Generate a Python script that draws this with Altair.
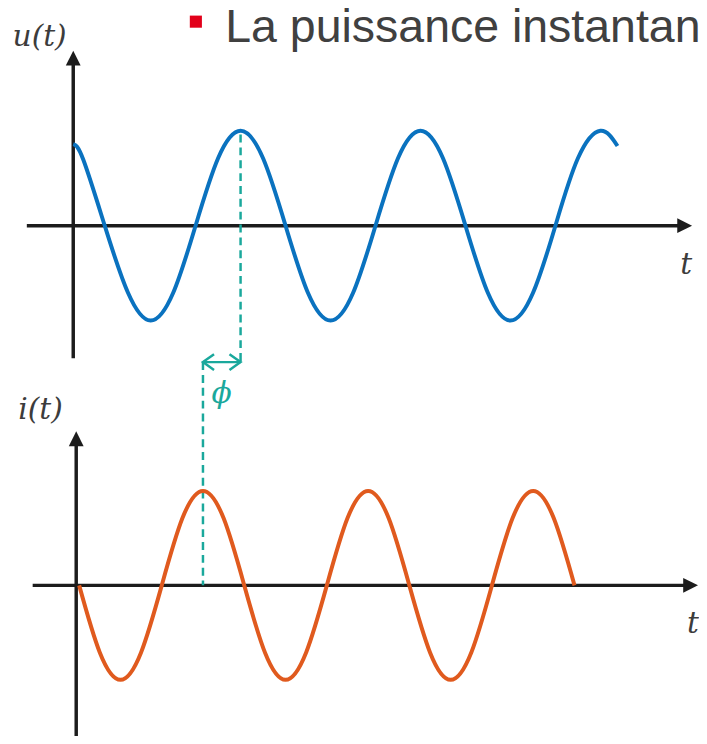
import altair as alt
import pandas as pd

# ---- data ----
# u(t): time (ms) and normalised value at key points
u_t = [0.0, 1.1, 3.5, 6.1, 8.6, 11.1, 13.6, 16.1, 18.6, 21.1, 23.6, 26.1, 28.6,
       31.1, 33.6, 36.1, 38.6, 41.1, 43.6, 46.1, 48.6, 51.1, 53.6, 56.1, 58.6, 60.5]
u_v = [0.86, 0.70, 0.0, -0.71, -1.0, -0.71, 0.0, 0.71, 1.0, 0.71, 0.0, -0.71, -1.0,
       -0.71, 0.0, 0.71, 1.0, 0.71, 0.0, -0.71, -1.0, -0.71, 0.0, 0.71, 1.0, 0.84]

# i(t): time (ms) and normalised value at key points
i_t = [0.66, 2.95, 5.25, 7.54, 9.84, 12.13, 14.42, 16.72, 19.01, 21.31, 23.60, 25.89,
       28.19, 30.48, 32.78, 35.07, 37.36, 39.66, 41.95, 44.25, 46.54, 48.83, 51.13,
       53.42, 55.72]
i_v = [0.0, -0.71, -1.0, -0.71, 0.0, 0.71, 1.0, 0.71, 0.0, -0.71, -1.0, -0.71,
       0.0, 0.71, 1.0, 0.71, 0.0, -0.71, -1.0, -0.71, 0.0, 0.71, 1.0, 0.71, 0.0]

u_peak_t = 18.6    # peak of u used for the phase marker
i_peak_t = 14.42   # peak of i used for the phase marker

title_text = "La puissance instantanée"
labels = ["u(t)", "t", "i(t)", "t"]

# ---- layout (data units) ----
X_DOMAIN = [-7.2527, 69.560]
Y_DOMAIN = [-5.3333, 2.25]
I_BASE = -3.79
I_AMP = 0.995
PHI_Y = -1.4375

BLUE = "#0A72BF"
ORANGE = "#E05A1E"
TEAL = "#1AA89C"
AXIS = "#1c1c1c"
TXT = "#3c3c3c"

xs = alt.Scale(domain=X_DOMAIN, nice=False, zero=False)
ys = alt.Scale(domain=Y_DOMAIN, nice=False, zero=False)


def X(f="t"):
    return alt.X(f"{f}:Q", scale=xs, axis=None)


def Y(f="y"):
    return alt.Y(f"{f}:Q", scale=ys, axis=None)


u_df = pd.DataFrame({"t": u_t, "y": u_v})
i_df = pd.DataFrame({"t": i_t, "y": [I_BASE + I_AMP * v for v in i_v]})

axes_df = pd.DataFrame({
    "t": [-5.16, 0.0, -4.51, 0.33],
    "t2": [67.7, 0.0, 68.3, 0.33],
    "y": [0.0, -1.396, I_BASE, -5.6],
    "y2": [0.0, 1.72, I_BASE, -2.29],
})
heads_x = pd.DataFrame({"t": [68.79, 69.45], "y": [0.0, I_BASE]})
heads_y = pd.DataFrame({"t": [0.0, 0.33], "y": [1.844, -2.167]})

dash_df = pd.DataFrame({
    "t": [u_peak_t, i_peak_t],
    "t2": [u_peak_t, i_peak_t],
    "y": [0.96, PHI_Y],
    "y2": [PHI_Y, I_BASE],
})
arrow_df = pd.DataFrame({"t": [i_peak_t], "t2": [u_peak_t], "y": [PHI_Y]})
chev_l = pd.DataFrame({"t": [i_peak_t], "y": [PHI_Y]})
chev_r = pd.DataFrame({"t": [u_peak_t], "y": [PHI_Y]})

lab_df = pd.DataFrame({
    "t": [-3.74, 68.13, -3.63, 68.9],
    "y": [1.99, -0.42, -1.94, -4.20],
    "label": labels,
})
phi_df = pd.DataFrame({"t": [16.48], "y": [-1.77], "label": ["ϕ"]})
title_df = pd.DataFrame({"t": [16.9], "y": [1.94], "label": [title_text]})
bullet_df = pd.DataFrame({"t": [13.63], "y": [2.15]})

axes = alt.Chart(axes_df).mark_rule(color=AXIS, strokeWidth=3.5).encode(
    x=X(), x2="t2:Q", y=Y(), y2="y2:Q")
hx = alt.Chart(heads_x).mark_point(
    shape="M0,0L-1,-0.5L-1,0.5Z", size=900, filled=True, color=AXIS,
    opacity=1, strokeWidth=0).encode(x=X(), y=Y())
hy = alt.Chart(heads_y).mark_point(
    shape="M0,0L-0.5,1L0.5,1Z", size=900, filled=True, color=AXIS,
    opacity=1, strokeWidth=0).encode(x=X(), y=Y())

dashes = alt.Chart(dash_df).mark_rule(
    color=TEAL, strokeWidth=2.5, strokeDash=[8, 5]).encode(
    x=X(), x2="t2:Q", y=Y(), y2="y2:Q")
arrow = alt.Chart(arrow_df).mark_rule(color=TEAL, strokeWidth=2.5).encode(
    x=X(), x2="t2:Q", y=Y())
cl = alt.Chart(chev_l).mark_point(
    shape="M1.4,-1L0,0L1.4,1", size=256, filled=False, color=TEAL,
    strokeWidth=2.5, opacity=1).encode(x=X(), y=Y())
cr = alt.Chart(chev_r).mark_point(
    shape="M-1.4,-1L0,0L-1.4,1", size=256, filled=False, color=TEAL,
    strokeWidth=2.5, opacity=1).encode(x=X(), y=Y())

u_line = alt.Chart(u_df).mark_line(
    color=BLUE, strokeWidth=4, interpolate="natural").encode(
    x=X(), y=Y(), order="t:Q")
i_line = alt.Chart(i_df).mark_line(
    color=ORANGE, strokeWidth=4, interpolate="natural").encode(
    x=X(), y=Y(), order="t:Q")

labs = alt.Chart(lab_df).mark_text(
    font="DejaVu Serif", fontStyle="italic", fontSize=30, color=TXT,
    align="center", baseline="middle").encode(x=X(), y=Y(), text="label:N")
phi = alt.Chart(phi_df).mark_text(
    font="DejaVu Serif", fontStyle="italic", fontSize=30, color=TEAL,
    align="center", baseline="middle").encode(x=X(), y=Y(), text="label:N")
title = alt.Chart(title_df).mark_text(
    font="Liberation Sans", fontSize=47, color="#404040",
    align="left", baseline="alphabetic").encode(x=X(), y=Y(), text="label:N")
bullet = alt.Chart(bullet_df).mark_square(
    size=150, color="#E2001A", opacity=1).encode(x=X(), y=Y())

chart = alt.layer(
    axes, hx, hy, dashes, arrow, cl, cr, u_line, i_line, labs, phi, title, bullet
).properties(
    width=699, height=728, padding=0,
    autosize=alt.AutoSizeParams(type="none"),
    background="white",
).configure_view(strokeWidth=0)

chart.save("out.html", embed_options={"renderer": "svg", "actions": False})
